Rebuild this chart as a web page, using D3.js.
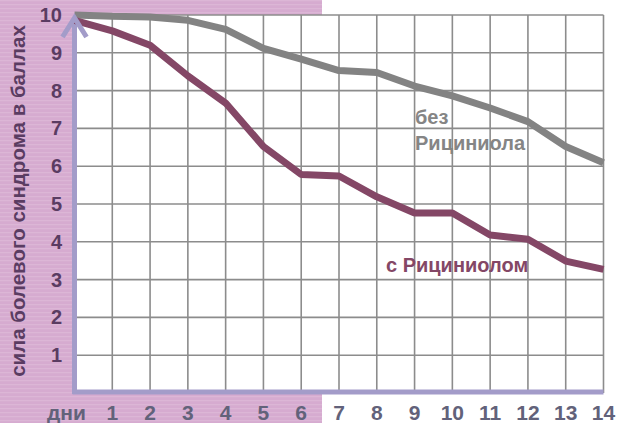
<!DOCTYPE html>
<html><head><meta charset="utf-8">
<script src="https://cdn.jsdelivr.net/npm/d3@7"></script>
<style>html,body{margin:0;padding:0;background:#fff;}svg{display:block;}</style>
</head><body>
<script>
const days = [0,1,2,3,4,5,6,7,8,9,10,11,12,13,14];
const withoutRic = [10,9.97,9.95,9.86,9.62,9.12,8.83,8.53,8.48,8.12,7.86,7.54,7.18,6.52,6.09];
const withRic = [9.86,9.58,9.2,8.39,7.67,6.52,5.78,5.74,5.19,4.76,4.76,4.18,4.07,3.49,3.27];
const xTickLabels = [1,2,3,4,5,6,7,8,9,10,11,12,13,14];
const yTickLabels = [1,2,3,4,5,6,7,8,9,10];
const yTitle = "сила болевого синдрома в баллах";
const xTitle = "дни";
const labelWithout = ["без","Рициниола"];
const labelWith = "с Рициниолом";

const W = 617, H = 423;
const FONT = "Liberation Sans, Arial, sans-serif";
const svg = d3.select("body").append("svg").attr("width", W).attr("height", H);
const defs = svg.append("defs");
const pat = defs.append("pattern").attr("id","stripe").attr("patternUnits","userSpaceOnUse").attr("width",10).attr("height",4);
pat.append("rect").attr("width",10).attr("height",4).attr("fill","#d6abd0");
pat.append("rect").attr("y",0).attr("width",10).attr("height",1.3).attr("fill","#dcb6d6");

const x = d3.scaleLinear().domain([0,14]).range([74.5,603.5]);
const y = d3.scaleLinear().domain([0,10]).range([393,15]);

// pink background
svg.append("rect").attr("x",0).attr("y",0).attr("width",322).attr("height",H).attr("fill","url(#stripe)");
// plot white
svg.append("rect").attr("x",x(0)).attr("y",y(10)).attr("width",x(14)-x(0)).attr("height",y(0)-y(10)).attr("fill","#fff");

// grid
const g = svg.append("g");
g.selectAll(".vg").data(d3.range(1,15)).enter().append("line")
  .attr("x1",d=>x(d)).attr("x2",d=>x(d)).attr("y1",y(10)).attr("y2",y(0))
  .attr("stroke","#8c8c8c").attr("stroke-width",1.6);
g.selectAll(".hg").data(d3.range(1,11)).enter().append("line")
  .attr("x1",x(0)).attr("x2",x(14)).attr("y1",d=>y(d)).attr("y2",d=>y(d))
  .attr("stroke","#8c8c8c").attr("stroke-width",1.6);

// axes (lavender)
const axisColor = "#a39cc9";
svg.append("line").attr("x1",x(0)-2).attr("x2",x(14)).attr("y1",y(0)-1).attr("y2",y(0)-1)
  .attr("stroke",axisColor).attr("stroke-width",5);
svg.append("line").attr("x1",x(0)).attr("x2",x(0)).attr("y1",y(0)+1).attr("y2",y(10)+4)
  .attr("stroke",axisColor).attr("stroke-width",5);

// lines
const line = d3.line().x((d,i)=>x(days[i])).y(d=>y(d));
svg.append("path").datum(withoutRic).attr("d",line).attr("fill","none")
  .attr("stroke","#838383").attr("stroke-width",7).attr("stroke-linejoin","bevel");
svg.append("path").datum(withRic).attr("d",line).attr("fill","none")
  .attr("stroke","#844766").attr("stroke-width",7).attr("stroke-linejoin","bevel");

// arrow head on y axis
svg.append("path")
  .attr("d",`M${x(0)-12},${y(10)+22} L${x(0)},${y(10)+3} L${x(0)+12},${y(10)+22}`)
  .attr("fill","none").attr("stroke",axisColor).attr("stroke-width",5);

// y tick labels
svg.selectAll(".yt").data(yTickLabels).enter().append("text")
  .attr("x",62).attr("y",d=>y(d)+7).attr("text-anchor","end")
  .attr("font-family",FONT).attr("font-weight","bold")
  .attr("font-size",20).attr("fill","#5a3c62").text(d=>d);

// x tick labels
svg.selectAll(".xt").data(xTickLabels).enter().append("text")
  .attr("x",d=>x(d)).attr("y",420).attr("text-anchor","middle")
  .attr("font-family",FONT).attr("font-weight","bold")
  .attr("font-size",21).attr("fill","#62627a").text(d=>d);
svg.append("text").attr("x",47).attr("y",420)
  .attr("font-family",FONT).attr("font-weight","bold")
  .attr("font-size",21).attr("fill","#62627a").text(xTitle);

// y title
svg.append("text").attr("transform","translate(25,201) rotate(-90)").attr("text-anchor","middle")
  .attr("font-family",FONT).attr("font-weight","bold")
  .attr("font-size",20.5).attr("fill","#5a3c62").text(yTitle);

// series labels
svg.append("text").attr("x",415).attr("y",124)
  .attr("font-family",FONT).attr("font-weight","bold")
  .attr("font-size",20).attr("fill","#858585").text(labelWithout[0]);
svg.append("text").attr("x",415).attr("y",150)
  .attr("font-family",FONT).attr("font-weight","bold")
  .attr("font-size",20).attr("fill","#858585").text(labelWithout[1]);
svg.append("text").attr("x",386).attr("y",272)
  .attr("font-family",FONT).attr("font-weight","bold")
  .attr("font-size",20).attr("fill","#844766").text(labelWith);
</script>
</body></html>
